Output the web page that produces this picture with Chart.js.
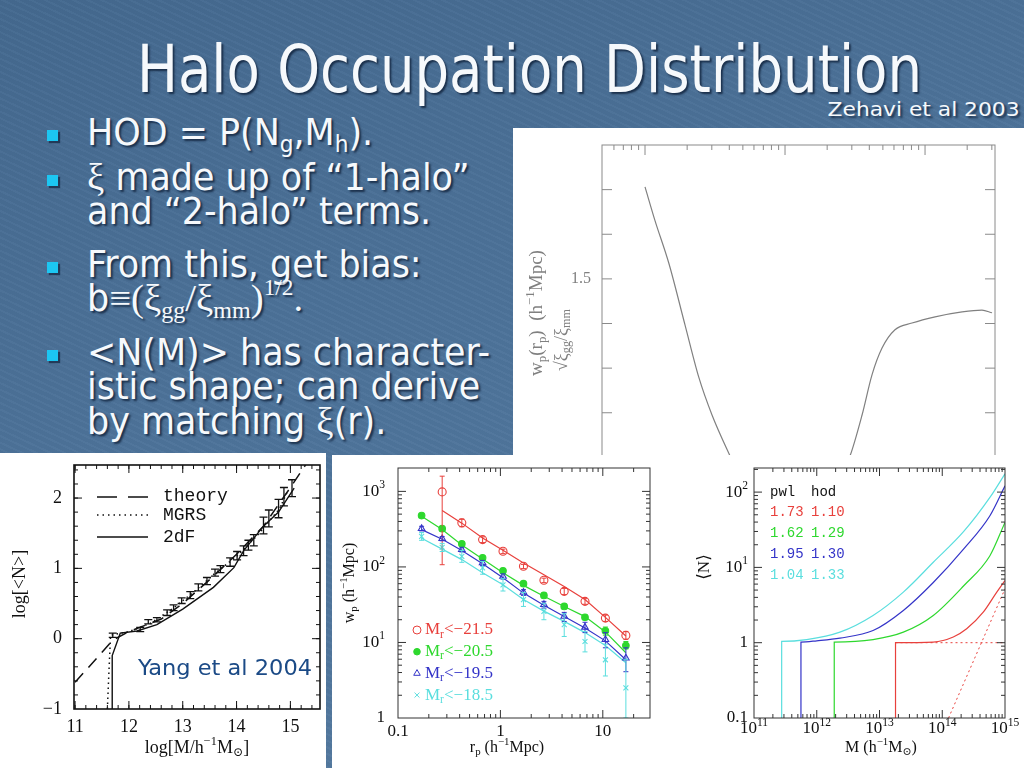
<!DOCTYPE html>
<html lang="en">
<head>
<meta charset="UTF-8" />
<title>Halo Occupation Distribution</title>
<style>
  * { box-sizing: border-box; }
  html, body { margin: 0; padding: 0; }
  body {
    width: 1024px; height: 768px; overflow: hidden; position: relative;
    background:
      repeating-linear-gradient(25deg, rgba(255,255,255,0.025) 0 2px, rgba(0,0,0,0.02) 2px 6px),
      linear-gradient(160deg, #44698f 0%, #4d739a 45%, #577ca2 100%);
    font-family: "DejaVu Sans Condensed", "DejaVu Sans", sans-serif;
    color: #f6f9fc;
  }
  .shadow { text-shadow: 2px 2px 2px rgba(18, 36, 62, 0.85); }
  #title { position: absolute; left: 137px; top: 37px; font-size: 66px; line-height: 66px; white-space: nowrap; transform-origin: 0 0; }
  #cite { position: absolute; right: 4px; top: 99px; font-size: 20px; line-height: 20px; white-space: nowrap; transform-origin: 100% 0; }
  .ln { position: absolute; left: 87px; font-size: 38px; line-height: 38px; white-space: nowrap; transform-origin: 0 0; }
  .ln sub { font-size: 0.62em; vertical-align: -0.28em; line-height: 0; }
  .sf { font-family: "Liberation Serif", "DejaVu Serif", serif; }
  .sf sub { font-size: 0.62em; vertical-align: -0.3em; }
  .sf sup { font-size: 0.6em; vertical-align: 0.7em; line-height: 0; }
  .bul { position: absolute; left: 47px; width: 11px; height: 11px; background: #1cc6f2; box-shadow: 2px 2px 1px rgba(18, 36, 62, 0.7); }
  .panel { position: absolute; background: #fff; overflow: hidden; }
  .panel canvas { position: absolute; top: 0; }
  #yang { position: absolute; left: 138px; top: 655px; font-size: 22px; line-height: 26px; color: #1b4a86; white-space: nowrap; transform-origin: 0 0; }
</style>
</head>
<body>
  <div id="title" class="shadow">Halo Occupation Distribution</div>
  <div id="cite" class="shadow">Zehavi et al 2003</div>

  <div class="bul" style="top:130px"></div>
  <div class="ln shadow" style="top:113px">HOD = P(N<sub>g</sub>,M<sub>h</sub>).</div>
  <div class="bul" style="top:175px"></div>
  <div class="ln shadow" style="top:158px"><span class="sf">ξ</span> made up of “1-halo”</div>
  <div class="ln shadow" style="top:192px">and “2-halo” terms.</div>
  <div class="bul" style="top:262px"></div>
  <div class="ln shadow" style="top:245px">From this, get bias:</div>
  <div class="ln shadow" style="top:279px">b<span class="sf">≡(ξ<sub>gg</sub>/ξ<sub>mm</sub>)<sup>1/2</sup>.</span></div>
  <div class="bul" style="top:350px"></div>
  <div class="ln shadow" id="refline" style="top:333px">&lt;N(M)&gt; has character-</div>
  <div class="ln shadow" style="top:367px">istic shape; can derive</div>
  <div class="ln shadow" style="top:402px">by matching <span class="sf">ξ</span>(r).</div>

  <div class="panel" style="left:513px; top:128px; width:511px; height:327px;">
    <canvas id="biasChart" width="511" height="390"></canvas>
  </div>
  <div class="panel" style="left:0; top:453px; width:326px; height:315px;">
    <canvas id="yangChart" width="326" height="315" style="top:2px"></canvas>
  </div>
  <div class="panel" style="left:332px; top:455px; width:692px; height:313px;">
    <canvas id="wpChart" width="358" height="313" style="left:0"></canvas>
    <canvas id="nChart" width="334" height="313" style="left:358px"></canvas>
  </div>
  <div id="yang">Yang et al 2004</div>

  <script src="https://cdn.jsdelivr.net/npm/chart.js"></script>
  <script>
    // ---------- data ----------
    // Zehavi et al 2003 bias curve (top right); values under the lower panels are hidden
    const biasR = [0.1, 0.118, 0.148, 0.193, 0.243, 0.301, 0.405, 0.6, 1.0, 1.6, 2.3, 2.91, 3.55, 4.18, 4.93, 6.1, 8.07, 11.8, 18.4, 25.5, 30.1];
    const biasB = [1.706, 1.63, 1.535, 1.397, 1.278, 1.195, 1.103, 0.99, 0.96, 0.98, 1.04, 1.103, 1.195, 1.285, 1.345, 1.386, 1.401, 1.415, 1.426, 1.43, 1.424];
    const biasYTicks = [1.5];
    const biasYLabels = ['1.5'];

    // Yang et al 2004: log<N> vs log M
    const theoryM = [11.0, 11.47, 11.7, 12.0, 12.6, 13.0, 13.5, 14.0, 14.5, 15.0, 15.35];
    const theoryN = [-0.62, -0.22, -0.02, 0.1, 0.28, 0.5, 0.84, 1.2, 1.6, 2.15, 2.55];
    const mgrsM = [11.6, 11.63, 11.66, 12.0, 12.4, 12.8, 13.2, 13.6, 14.0, 14.4, 14.8, 14.95];
    const mgrsN = [-1, -0.45, 0.05, 0.1, 0.22, 0.42, 0.66, 0.93, 1.17, 1.48, 1.85, 2.1];
    const twodfM = [11.69, 11.69, 11.84, 12.15, 12.52, 13.0, 13.57, 13.95, 14.13, 14.5, 14.78, 15.07];
    const twodfN = [-1, -0.24, 0.08, 0.11, 0.2, 0.42, 0.73, 1.01, 1.25, 1.6, 1.8, 2.14];
    const barM = [11.7, 12.21, 12.36, 12.52, 12.71, 12.83, 12.98, 13.14, 13.29, 13.45, 13.6, 13.7, 13.88, 14.01, 14.13, 14.22, 14.32, 14.5, 14.6, 14.78, 14.88, 15.03];
    const barN = [0.05, 0.13, 0.24, 0.27, 0.37, 0.44, 0.54, 0.62, 0.73, 0.82, 0.94, 0.99, 1.09, 1.18, 1.25, 1.33, 1.4, 1.61, 1.71, 1.85, 2.02, 2.14];
    const barErr = [0.03, 0.03, 0.03, 0.03, 0.04, 0.04, 0.04, 0.05, 0.05, 0.05, 0.05, 0.05, 0.06, 0.06, 0.07, 0.07, 0.08, 0.12, 0.12, 0.13, 0.13, 0.12];
    const yangXTicks = [11, 12, 13, 14, 15];
    const yangXLabels = ['11', '12', '13', '14', '15'];
    const yangYTicks = [-1, 0, 1, 2];
    const yangYLabels = ['−1', '0', '1', '2'];
    const yangLegend = ['theory', 'MGRS', '2dF'];

    // Zehavi: w_p(r_p) for four luminosity thresholds
    const rp = [0.17, 0.27, 0.42, 0.67, 1.06, 1.68, 2.66, 4.2, 6.7, 10.6, 16.8];
    const wpRed = [null, 985, 383, 230, 161, 102, 66.5, 47.5, 35, 21, 12.4];
    const wpRedLo = [null, 107, 340, 210, 150, 95, 62, 43, 32, 19, 11];
    const wpRedHi = [null, 1590, 430, 250, 172, 108, 71, 52, 38, 23, 14];
    const fitRed = [null, 557, 380, 242, 166, 113, 79, 55, 37, 21.5, 12.2];
    const wpGreen = [478, 321, 202, 132, 89, 60, 42, 30, 21.5, 14.3, 9.1];
    const wpGreenLo = [455, 305, 192, 125, 84, 56, 39, 28, 20, 12.5, 8.2];
    const wpGreenHi = [500, 338, 212, 139, 94, 64, 45, 32, 23, 16, 10.3];
    const fitGreen = [470, 312, 195, 127, 84, 57, 41, 30, 22, 13.8, 7.3];
    const wpBlue = [321, 237, 170, 113, 75, 46, 31.7, 22.2, 15.9, 10.9, 6.2];
    const wpBlueLo = [300, 222, 158, 104, 69, 42, 28.5, 19, 13.5, 8.5, 4.1];
    const wpBlueHi = [345, 252, 182, 122, 81, 50, 35, 25, 18.5, 13.5, 8.5];
    const fitBlue = [312, 232, 165, 110, 72, 45, 31, 22, 15.5, 10.5, 5.9];
    const wpCyan = [254, 182, 138, 97, 58, 37, 25.8, 17.2, 10.3, 5.9, 2.5];
    const wpCyanLo = [225, 160, 115, 80, 48, 30, 20, 12, 7.5, 3.6, 1.0];
    const wpCyanHi = [285, 205, 165, 118, 70, 46, 33, 24, 14, 9.5, 6.0];
    const fitCyan = [240, 172, 125, 84, 58, 37, 26, 19, 13.5, 9.1, 5.4];
    const wpLegend = ['<−21.5', '<−20.5', '<−19.5', '<−18.5'];
    const wpXTicks = [0.1, 1, 10];
    const wpXLabels = ['0.1', '1', '10'];
    const wpYTicks = [1, 10, 100, 1000];
    const wpYLabels = ['1', '10^{1}', '10^{2}', '10^{3}'];

    // Zehavi: <N(M)> for the same four samples
    const nRedM = [1.8e13, 1.8e13, 7.2e13, 1.5e14, 2.45e14, 4.5e14, 7.4e14, 1e15];
    const nRedN = [0.1, 1.0, 1.02, 1.19, 1.53, 2.54, 4.7, 6.7];
    const nRedCenM = [1.8e13, 1e15];
    const nRedCenN = [1.0, 1.0];
    const nRedSatM = [1.26e14, 1e15];
    const nRedSatN = [0.1, 5.2];
    const nGreenM = [1.9e12, 1.9e12, 7.9e12, 2.4e13, 7.2e13, 2.2e14, 5.75e14, 1e15];
    const nGreenN = [0.1, 1.02, 1.1, 1.38, 2.3, 5.7, 14.3, 39.6];
    const nBlueM = [5.6e11, 5.6e11, 1e12, 2.34e12, 7.9e12, 2.4e13, 7.2e13, 2.2e14, 5.75e14, 1e15];
    const nBlueN = [0.1, 1.02, 1.06, 1.15, 1.45, 2.68, 6.3, 17.6, 48.6, 121];
    const nCyanM = [2.76e11, 2.76e11, 6.9e11, 2.34e12, 7.9e12, 2.4e13, 7.2e13, 2.2e14, 5.75e14, 1e15];
    const nCyanN = [0.1, 1.04, 1.1, 1.38, 2.3, 4.7, 11.7, 30, 85, 175];
    const nLegendHead = ['pwl', 'hod'];
    const nLegendPwl = ['1.73', '1.62', '1.95', '1.04'];
    const nLegendHod = ['1.10', '1.29', '1.30', '1.33'];
    const nXTicks = [1e11, 1e12, 1e13, 1e14, 1e15];
    const nXLabels = ['10^{11}', '10^{12}', '10^{13}', '10^{14}', '10^{15}'];
    const nYTicks = [0.1, 1, 10, 100];
    const nYLabels = ['0.1', '1', '10^{1}', '10^{2}'];

    // ---------- helpers ----------
    const RED = '#e8403c', GREEN = '#2ed82e', BLUE = '#3434c8', CYAN = '#5adede';
    const SERIF = '"Liberation Serif", "DejaVu Serif", serif';
    const MONO = '"Liberation Mono", "DejaVu Sans Mono", monospace';

    const pts = (xs, ys) => xs.map((x, i) => ({ x: x, y: ys[i] })).filter(p => p.y != null);

    function logMinor(lo, hi) {
      const v = [];
      for (let e = Math.floor(Math.log10(lo)); e <= Math.ceil(Math.log10(hi)); e++) {
        for (let k = 2; k <= 9; k++) {
          const t = k * Math.pow(10, e);
          if (t > lo && t < hi) v.push(t);
        }
      }
      return v;
    }
    function steps(lo, hi, st) {
      const v = [];
      for (let t = lo; t <= hi + 1e-9; t += st) v.push(+t.toFixed(4));
      return v;
    }

    function parseRich(s) {
      const out = [], re = /([_^])\{([^}]*)\}/g;
      let last = 0, m;
      while ((m = re.exec(s))) {
        if (m.index > last) out.push([s.slice(last, m.index), '']);
        out.push([m[2], m[1]]);
        last = re.lastIndex;
      }
      if (last < s.length) out.push([s.slice(last), '']);
      return out;
    }
    function drawRich(ctx, s, x, y, size, family, color, align, rot) {
      const segs = parseRich(s);
      const fnt = md => (md ? size * 0.68 : size) + 'px ' + family;
      let w = 0;
      segs.forEach(g => { ctx.font = fnt(g[1]); w += ctx.measureText(g[0]).width; });
      ctx.save();
      ctx.translate(x, y);
      if (rot) ctx.rotate(rot);
      ctx.fillStyle = color;
      ctx.textBaseline = 'middle';
      ctx.textAlign = 'left';
      let cx = align === 'right' ? -w : align === 'left' ? 0 : -w / 2;
      segs.forEach(g => {
        ctx.font = fnt(g[1]);
        const dy = g[1] === '^' ? -size * 0.36 : g[1] === '_' ? size * 0.28 : 0;
        ctx.fillText(g[0], cx, dy);
        cx += ctx.measureText(g[0]).width;
      });
      ctx.restore();
    }

    // frame, inward ticks, rich labels, error bars and in-plot legends
    const hep = {
      id: 'hep',
      afterDatasetsDraw(chart, args, o) {
        const ctx = chart.ctx, a = chart.chartArea;
        const sx = chart.scales.x, sy = chart.scales.y;
        ctx.save();
        (o.errors || []).forEach(e => {
          ctx.save();
          ctx.beginPath();
          ctx.rect(a.left, a.top, a.right - a.left, a.bottom - a.top);
          ctx.clip();
          ctx.strokeStyle = e.color;
          ctx.lineWidth = e.width || 1;
          e.x.forEach((xv, i) => {
            if (e.lo[i] == null) return;
            const px = sx.getPixelForValue(xv);
            const p1 = sy.getPixelForValue(e.lo[i]), p2 = sy.getPixelForValue(e.hi[i]);
            ctx.beginPath();
            ctx.moveTo(px, p1); ctx.lineTo(px, p2);
            ctx.moveTo(px - e.cap, p1); ctx.lineTo(px + e.cap, p1);
            ctx.moveTo(px - e.cap, p2); ctx.lineTo(px + e.cap, p2);
            ctx.stroke();
          });
          ctx.restore();
        });

        ctx.strokeStyle = o.frame;
        ctx.lineWidth = o.frameWidth || 1;
        ctx.strokeRect(a.left, a.top, a.right - a.left, a.bottom - a.top);

        ctx.lineWidth = 1;
        const tx = (vals, len) => vals.forEach(v => {
          const p = sx.getPixelForValue(v);
          if (p < a.left + 1 || p > a.right - 1) return;
          ctx.beginPath();
          ctx.moveTo(p, a.bottom); ctx.lineTo(p, a.bottom - len);
          ctx.moveTo(p, a.top); ctx.lineTo(p, a.top + len);
          ctx.stroke();
        });
        const ty = (vals, len) => vals.forEach(v => {
          const p = sy.getPixelForValue(v);
          if (p < a.top + 1 || p > a.bottom - 1) return;
          ctx.beginPath();
          ctx.moveTo(a.left, p); ctx.lineTo(a.left + len, p);
          ctx.moveTo(a.right, p); ctx.lineTo(a.right - len, p);
          ctx.stroke();
        });
        tx(o.xMajor || [], o.majorLen); tx(o.xMinor || [], o.minorLen);
        ty(o.yMajor || [], o.majorLen); ty(o.yMinor || [], o.minorLen);

        const f = o.labelFont;
        if (o.xLabels) o.xLabels.vals.forEach((v, i) =>
          drawRich(ctx, o.xLabels.text[i], sx.getPixelForValue(v), a.bottom + o.xLabels.off, f.size, f.family, f.color, 'center'));
        if (o.yLabels) o.yLabels.vals.forEach((v, i) =>
          drawRich(ctx, o.yLabels.text[i], a.left - o.yLabels.off, sy.getPixelForValue(v), f.size, f.family, f.color, 'right'));

        (o.lines || []).forEach(l => {
          ctx.strokeStyle = l.color;
          ctx.lineWidth = l.width;
          ctx.setLineDash(l.dash || []);
          ctx.beginPath();
          ctx.moveTo(a.left + l.x1, a.top + l.y); ctx.lineTo(a.left + l.x2, a.top + l.y);
          ctx.stroke();
          ctx.setLineDash([]);
        });
        (o.marks || []).forEach(m => {
          ctx.strokeStyle = m.color;
          ctx.fillStyle = m.fill ? m.color : 'rgba(0,0,0,0)';
          Chart.helpers.drawPoint(ctx, { pointStyle: m.style, radius: m.r, rotation: 0, borderWidth: 1 }, a.left + m.x, a.top + m.y);
        });
        (o.texts || []).forEach(t => {
          const x = t.abs ? t.x : a.left + t.x, y = t.abs ? t.y : a.top + t.y;
          drawRich(ctx, t.s, x, y, t.size, t.family || SERIF, t.color || '#111', t.align || 'left', t.rot || 0);
        });
        ctx.restore();
      },
    };

    function makeChart(id, datasets, xScale, yScale, pad, deco) {
      return new Chart(document.getElementById(id), {
        type: 'scatter',
        data: { datasets: datasets },
        options: {
          responsive: false,
          animation: false,
          events: [],
          layout: { padding: pad },
          scales: {
            x: Object.assign({ display: false }, xScale),
            y: Object.assign({ display: false }, yScale),
          },
          plugins: { legend: { display: false }, tooltip: { enabled: false }, hep: deco },
        },
        plugins: [hep],
      });
    }

    const curve = (xs, ys, color, width, extra) => Object.assign({
      data: pts(xs, ys), showLine: true, borderColor: color, borderWidth: width,
      pointRadius: 0, fill: false, tension: 0,
    }, extra || {});

    // ---------- top right: bias ----------
    makeChart('biasChart',
      [curve(biasR, biasB, '#808080', 1.2, { cubicInterpolationMode: 'monotone' })],
      { type: 'logarithmic', min: 0.0493, max: 31.6 },
      { type: 'linear', min: 1.0, max: 1.8 },
      { left: 89, top: 17, right: 29, bottom: 16 },
      {
        frame: '#8a8a8a', majorLen: 10, minorLen: 5,
        xMajor: [0.1, 1, 10], xMinor: logMinor(0.0493, 31.6),
        yMajor: steps(1.1, 1.7, 0.1), yMinor: [],
        labelFont: { size: 16, family: SERIF, color: '#808080' },
        yLabels: { vals: biasYTicks, text: biasYLabels, off: 11 },
        texts: [
          { abs: true, s: 'w_{p}(r_{p})  (h^{−1}Mpc)', x: 24, y: 185, size: 19, color: '#808080', align: 'center', rot: -Math.PI / 2 },
          { abs: true, s: '√ξ_{gg}/ξ_{mm}', x: 49, y: 212, size: 18, color: '#808080', align: 'center', rot: -Math.PI / 2 },
        ],
      });

    // ---------- bottom left: Yang et al ----------
    makeChart('yangChart',
      [
        curve(theoryM, theoryN, '#111', 1.5, { borderDash: [12, 8] }),
        curve(mgrsM, mgrsN, '#111', 1.5, { borderDash: [1.5, 3.5] }),
        curve(twodfM, twodfN, '#111', 1.4),
      ],
      { type: 'linear', min: 10.98, max: 15.55 },
      { type: 'linear', min: -1, max: 2.47 },
      { left: 74, top: 10, right: 6, bottom: 61 },
      {
        frame: '#111', frameWidth: 1.6, majorLen: 8, minorLen: 4,
        xMajor: yangXTicks, xMinor: steps(11, 15.4, 0.2),
        yMajor: yangYTicks, yMinor: steps(-1, 2.4, 0.2),
        labelFont: { size: 18, family: SERIF, color: '#111' },
        xLabels: { vals: yangXTicks, text: yangXLabels, off: 18 },
        yLabels: { vals: yangYTicks, text: yangYLabels, off: 12 },
        errors: [{ x: barM, lo: barN.map((v, i) => v - barErr[i]), hi: barN.map((v, i) => v + barErr[i]), color: '#111', width: 1.3, cap: 4 }],
        lines: [
          { x1: 23, x2: 74, y: 32, color: '#111', width: 1.6, dash: [20, 11] },
          { x1: 23, x2: 74, y: 50, color: '#111', width: 1.6, dash: [1.5, 4] },
          { x1: 23, x2: 74, y: 72, color: '#111', width: 1.4 },
        ],
        texts: [
          { s: yangLegend[0], x: 89, y: 31, size: 18, family: MONO },
          { s: yangLegend[1], x: 89, y: 50, size: 18, family: MONO },
          { s: yangLegend[2], x: 89, y: 72, size: 18, family: MONO },
          { abs: true, s: 'log[<N>]', x: 20, y: 129, size: 18, align: 'center', rot: -Math.PI / 2 },
          { abs: true, s: 'log[M/h^{−1}M_{⊙}]', x: 197, y: 293, size: 18, align: 'center' },
        ],
      });

    // ---------- bottom middle: w_p(r_p) ----------
    const wpSeries = [
      { color: RED, vals: wpRed, lo: wpRedLo, hi: wpRedHi, fit: fitRed, style: 'circle', fill: false, r: 4 },
      { color: GREEN, vals: wpGreen, lo: wpGreenLo, hi: wpGreenHi, fit: fitGreen, style: 'circle', fill: true, r: 3.3 },
      { color: BLUE, vals: wpBlue, lo: wpBlueLo, hi: wpBlueHi, fit: fitBlue, style: 'triangle', fill: false, r: 3.8 },
      { color: CYAN, vals: wpCyan, lo: wpCyanLo, hi: wpCyanHi, fit: fitCyan, style: 'crossRot', fill: false, r: 3.5 },
    ];
    const wpSets = [];
    wpSeries.forEach(s => {
      wpSets.push(curve(rp, s.fit, s.color, 1.2, { order: 2 }));
      wpSets.push({
        data: pts(rp, s.vals), showLine: false, order: 1,
        pointStyle: s.style, pointRadius: s.r, pointBorderWidth: 1.1,
        pointBorderColor: s.color, pointBackgroundColor: s.fill ? s.color : 'rgba(0,0,0,0)',
      });
    });
    makeChart('wpChart', wpSets,
      { type: 'logarithmic', min: 0.1, max: 28.9 },
      { type: 'logarithmic', min: 1, max: 2040 },
      { left: 66, top: 13, right: 40, bottom: 50 },
      {
        frame: '#333', majorLen: 8, minorLen: 4,
        xMajor: wpXTicks, xMinor: logMinor(0.1, 28.9),
        yMajor: wpYTicks, yMinor: logMinor(1, 2040),
        labelFont: { size: 17, family: SERIF, color: '#111' },
        xLabels: { vals: wpXTicks, text: wpXLabels, off: 14 },
        yLabels: { vals: wpYTicks, text: wpYLabels, off: 13 },
        errors: wpSeries.map(s => ({ x: rp, lo: s.lo, hi: s.hi, color: s.color, width: 1, cap: 2.5 })),
        marks: wpSeries.map((s, i) => ({ x: 19, y: 162 + i * 21.7, style: s.style, color: s.color, fill: s.fill, r: s.r })),
        texts: wpSeries.map((s, i) => ({ s: 'M_{r}' + wpLegend[i], x: 27, y: 162 + i * 21.7, size: 17, color: s.color }))
          .concat([
            { abs: true, s: 'w_{p} (h^{−1}Mpc)', x: 18, y: 128, size: 16, align: 'center', rot: -Math.PI / 2 },
            { abs: true, s: 'r_{p} (h^{−1}Mpc)', x: 175, y: 293, size: 16, align: 'center' },
          ]),
      });

    // ---------- bottom right: <N(M)> ----------
    const nSets = [
      curve(nCyanM, nCyanN, CYAN, 1.2, { cubicInterpolationMode: 'monotone' }),
      curve(nBlueM, nBlueN, BLUE, 1.2, { cubicInterpolationMode: 'monotone' }),
      curve(nGreenM, nGreenN, GREEN, 1.2, { cubicInterpolationMode: 'monotone' }),
      curve(nRedM, nRedN, RED, 1.2, { cubicInterpolationMode: 'monotone' }),
      curve(nRedCenM, nRedCenN, RED, 1, { borderDash: [2, 3] }),
      curve(nRedSatM, nRedSatN, RED, 1, { borderDash: [2, 3] }),
    ];
    const nColors = [RED, GREEN, BLUE, CYAN];
    makeChart('nChart', nSets,
      { type: 'logarithmic', min: 1e11, max: 1e15 },
      { type: 'logarithmic', min: 0.1, max: 209 },
      { left: 64, top: 13, right: 19, bottom: 50 },
      {
        frame: '#333', majorLen: 8, minorLen: 4,
        xMajor: nXTicks, xMinor: logMinor(1e11, 1e15),
        yMajor: nYTicks, yMinor: logMinor(0.1, 209),
        labelFont: { size: 17, family: SERIF, color: '#111' },
        xLabels: { vals: nXTicks, text: nXLabels, off: 11 },
        yLabels: { vals: nYTicks, text: nYLabels, off: 6 },
        texts: [
          { s: nLegendHead[0], x: 16, y: 24, size: 14, family: MONO },
          { s: nLegendHead[1], x: 57, y: 24, size: 14, family: MONO },
        ].concat(nColors.flatMap((c, i) => [
          { s: nLegendPwl[i], x: 16, y: 44 + i * 21, size: 14, family: MONO, color: c },
          { s: nLegendHod[i], x: 57, y: 44 + i * 21, size: 14, family: MONO, color: c },
        ])).concat([
          { abs: true, s: '⟨N⟩', x: 15, y: 112, size: 17, align: 'center', rot: -Math.PI / 2 },
          { abs: true, s: 'M (h^{−1}M_{⊙})', x: 191, y: 293, size: 16, align: 'center' },
        ]),
      });

    // ---------- squeeze slide text to the narrow face of the original ----------
    function fit(el, w) {
      el.style.transform = 'scaleX(' + (w / el.getBoundingClientRect().width) + ')';
    }
    fit(document.getElementById('title'), 785);
    fit(document.getElementById('cite'), 192);
    fit(document.getElementById('yang'), 174);
    const ref = document.getElementById('refline');
    const k = 403 / ref.getBoundingClientRect().width;
    document.querySelectorAll('.ln').forEach(el => { el.style.transform = 'scaleX(' + k + ')'; });
  </script>
</body>
</html>
